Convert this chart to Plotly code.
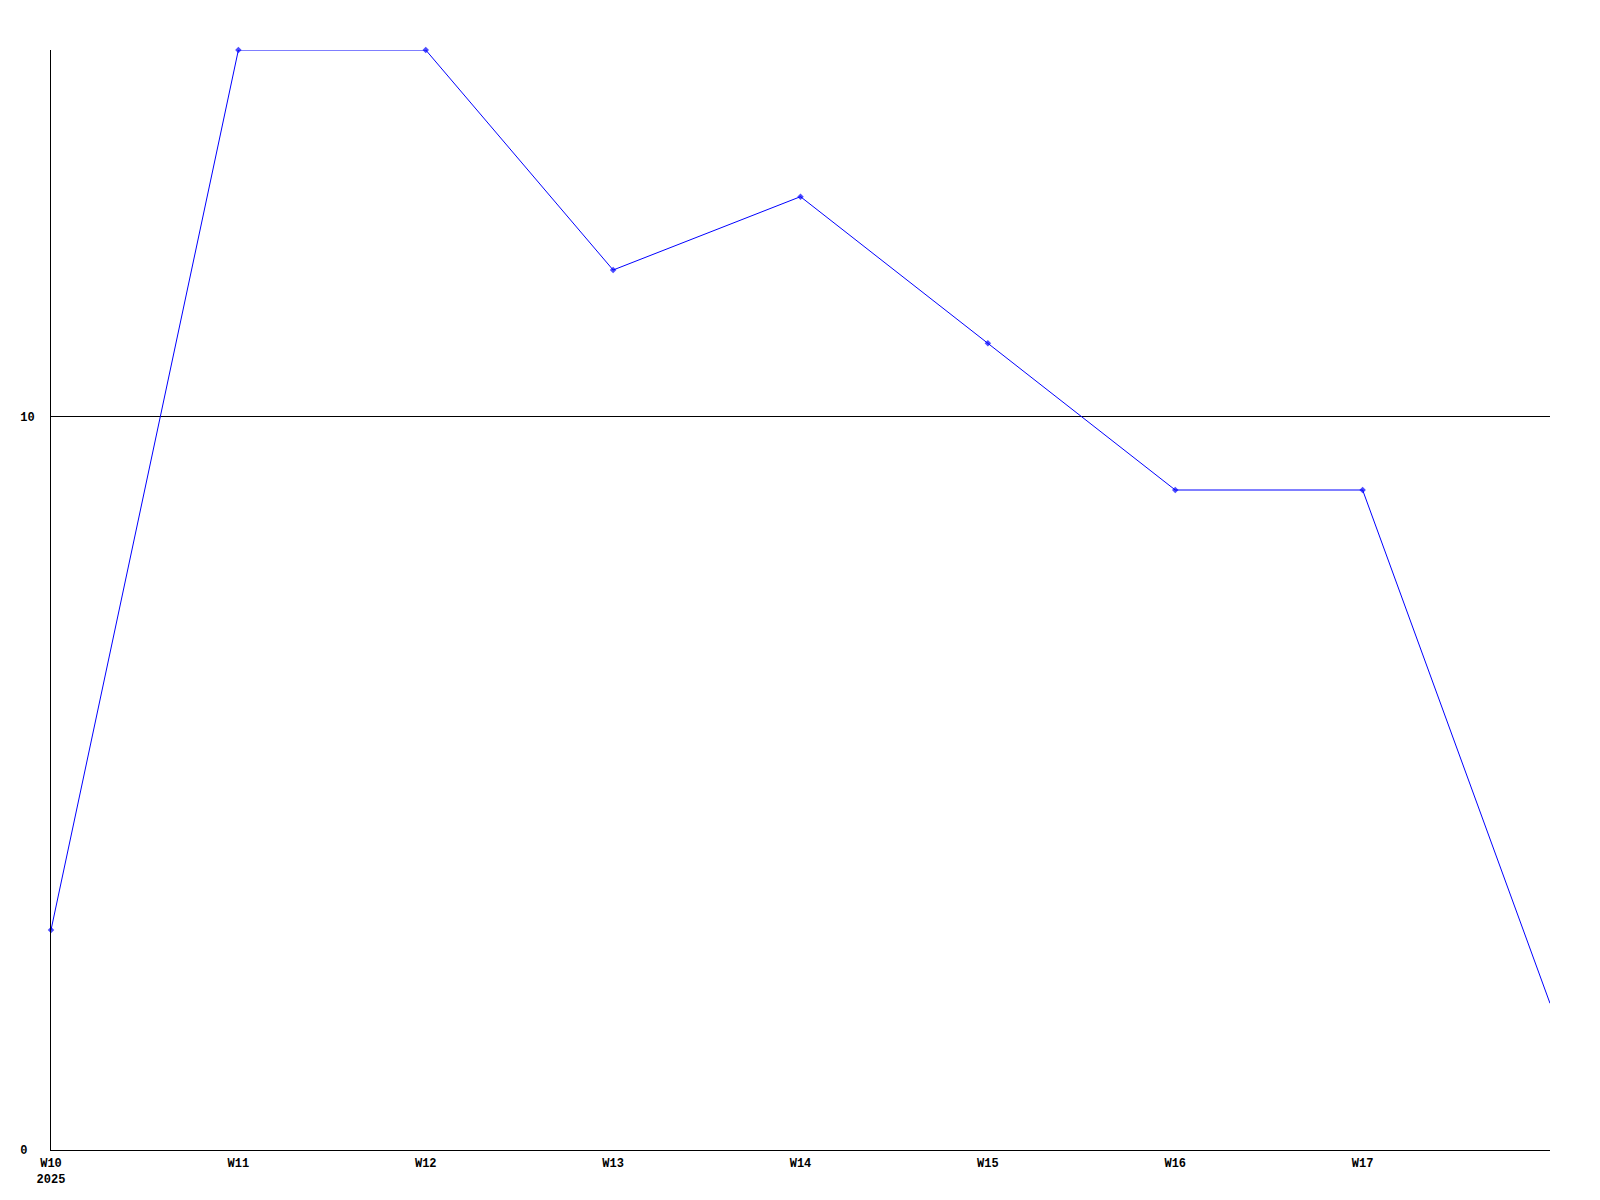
import plotly.graph_objects as go

weeks = ["W10", "W11", "W12", "W13", "W14", "W15", "W16", "W17", "W18"]
values = [3, 15, 15, 12, 13, 11, 9, 9, 2]
tick_labels = ["W10<br>2025", "W11", "W12", "W13", "W14", "W15", "W16", "W17"]
y_ticks = [0, 10]
y_tick_text = ["0\u00a0", "10"]

x_pos = list(range(len(weeks)))
marker_sizes = [5] * (len(weeks) - 1) + [0]

fig = go.Figure()
fig.add_trace(go.Scatter(
    x=x_pos, y=values, mode="lines+markers",
    line=dict(color="#0000ff", width=1),
    marker=dict(color="#0000ff", size=marker_sizes, symbol="diamond", line=dict(width=0)),
    cliponaxis=False, hoverinfo="skip",
))

font = dict(family="Liberation Mono, DejaVu Sans Mono, monospace", size=12, color="black", weight="bold")

fig.update_layout(
    width=1600, height=1200,
    margin=dict(l=43, r=58, t=42, b=58),
    paper_bgcolor="white", plot_bgcolor="white",
    showlegend=False,
    font=font,
    xaxis=dict(
        range=[0, 8], tickmode="array", tickvals=x_pos[:8], ticktext=tick_labels,
        showgrid=False, zeroline=False, showline=True, linecolor="black", linewidth=1,
        ticks="", tickfont=font, ticklabelstandoff=2,
    ),
    yaxis=dict(
        range=[0, 15], tickmode="array", tickvals=y_ticks, ticktext=y_tick_text,
        showgrid=True, gridcolor="black", gridwidth=1, zeroline=False,
        showline=True, linecolor="black", linewidth=1,
        ticks="", tickfont=font, ticklabelstandoff=13,
    ),
)

fig.write_html("out.html")
